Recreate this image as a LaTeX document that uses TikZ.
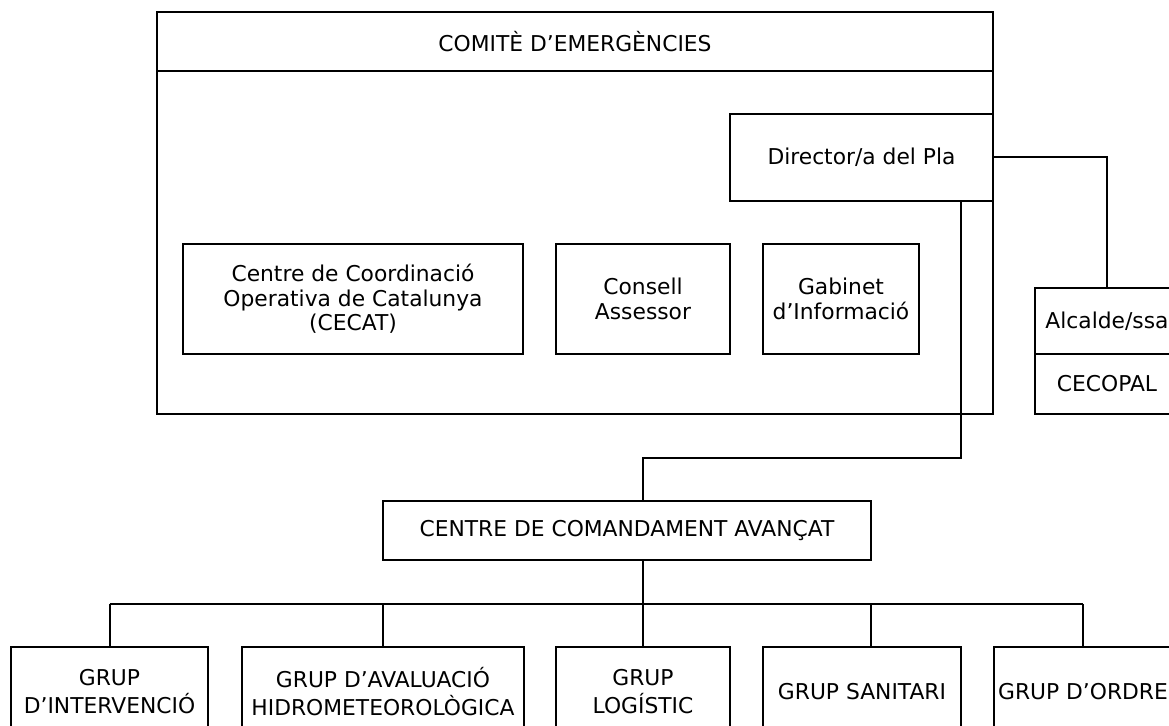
\documentclass[tikz,border=0pt]{standalone}
\usepackage{fontspec}
\setmainfont{DejaVu Sans}
\usepackage{tikz}
\usetikzlibrary{positioning}
\tikzset{caixa/.style={draw, rectangle, inner sep=0pt, align=center,
  font=\fontsize{10.9}{12.2}\selectfont}}
\tikzset{grup/.style={caixa, minimum height=44.5pt,
  font=\fontsize{10.9}{14}\selectfont}}

\begin{document}
\begin{tikzpicture}[x=0.5pt,y=-0.5pt,line width=1pt]
 \useasboundingbox (0,0) rectangle (1169,726);
 \clip (0,0) rectangle (1169,726);
 % comite
 \node[caixa, minimum width=418pt, minimum height=201pt] (comite) at (575,213) {};
 \node[caixa, minimum width=418pt, minimum height=29.5pt] (titol) at (575,41.5) {COMITÈ D’EMERGÈNCIES};
 \node[caixa, minimum width=131.5pt, minimum height=43.5pt] (director) at (861.5,157.5) {Director/a del Pla};
 \node[caixa, minimum width=170pt, minimum height=55pt] (cecat) at (353,299) {Centre de Coordinació\\Operativa de Catalunya\\(CECAT)};
 \node[caixa, minimum width=87pt, minimum height=55pt] (consell) at (643,299) {Consell\\Assessor};
 \node[caixa, minimum width=78pt, minimum height=55pt] (gabinet) at (841,299) {Gabinet\\d’Informació};
 % municipi
 \node[caixa, minimum width=72pt, minimum height=33pt] (alcalde) at (1107,321) {Alcalde/ssa};
 \node[caixa, minimum width=72pt, minimum height=30pt] (cecopal) at (1107,384) {CECOPAL};
 % comandament
 \node[caixa, minimum width=244pt, minimum height=29.5pt] (cca) at (627,530.5) {CENTRE DE COMANDAMENT AVANÇAT};
 \node[grup, minimum width=98.5pt] (b1) at (109.5,691.5) {GRUP\\D’INTERVENCIÓ};
 \node[grup, minimum width=141pt] (b2) at (383,691.5) {GRUP D’AVALUACIÓ\\HIDROMETEOROLÒGICA};
 \node[grup, minimum width=87pt] (b3) at (643,691.5) {GRUP\\LOGÍSTIC};
 \node[grup, minimum width=99pt] (b4) at (862,691.5) {GRUP SANITARI};
 \node[grup, minimum width=89pt] (b5) at (1083,691.5) {GRUP D’ORDRE};
 % connectors
 \coordinate (colze1) at (961,458);
 \coordinate (colze2) at (643,458);
 \coordinate (bus) at (643,604);
 \coordinate (g4) at (871,604);
 \draw (director.east) -| (alcalde.north);
 \draw (director.south -| colze1) -- (colze1) -- (colze2) -- (cca.north -| colze2);
 \draw (cca.south -| bus) -- (bus);
 \draw (b1.north |- bus) -- (b5.north |- bus);
 \foreach \g in {b1,b2,b3,b5}
  \draw (\g.north) -- (\g.north |- bus);
 \draw (g4) -- (b4.north -| g4);
\end{tikzpicture}
\end{document}
